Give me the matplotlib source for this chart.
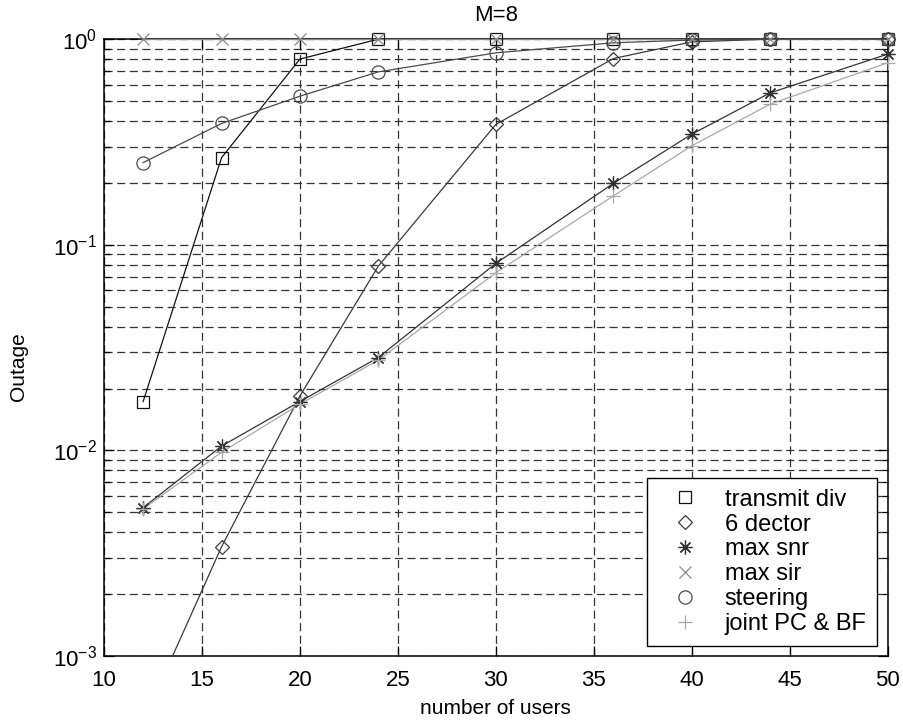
import matplotlib
matplotlib.use("Agg")

import matplotlib.pyplot as plt
from matplotlib.patches import Rectangle
from matplotlib.ticker import LogLocator, NullFormatter

plt.rcParams["font.family"] = ["Liberation Sans", "DejaVu Sans"]
plt.rcParams["mathtext.fontset"] = "custom"
plt.rcParams["mathtext.rm"] = "Liberation Sans"
plt.rcParams["mathtext.it"] = "Liberation Sans"

# data
users = [12, 16, 20, 24, 30, 36, 40, 44, 50]
transmit_div = [0.0173, 0.265, 0.80, 1.0, 1.0, 1.0, 1.0, 1.0, 1.0]
sector6 = [0.00048, 0.0034, 0.0184, 0.0787, 0.385, 0.805, 0.97, 1.0, 1.0]
max_snr = [0.00527, 0.0105, 0.0173, 0.0283, 0.0812, 0.199, 0.345, 0.548, 0.846]
max_sir = [1.0, 1.0, 1.0, 1.0, 1.0, 1.0, 1.0, 1.0, 1.0]
steering = [0.251, 0.389, 0.528, 0.693, 0.858, 0.96, 0.99, 1.0, 1.0]
joint_pc_bf = [0.0052, 0.0098, 0.0168, 0.0275, 0.0731, 0.173, 0.303, 0.483, 0.767]

# MATLAB style asterisk: eight thin arms
asterisk = (8, 2, 0)

series = [
    ("transmit div", transmit_div, "s", 9, "#111111"),
    ("6 dector", sector6, "D", 7.5, "#3a3a3a"),
    ("max snr", max_snr, asterisk, 10, "#333333"),
    ("max sir", max_sir, "x", 8, "#8a8a8a"),
    ("steering", steering, "o", 9.5, "#4a4a4a"),
    ("joint PC & BF", joint_pc_bf, "+", 10, "#a8a8a8"),
]

fig = plt.figure(figsize=(9.04, 7.25), dpi=100)
ax = fig.add_axes([0.115, 0.095, 0.867, 0.851])

# markers sitting on the top/right edge stay visible, points below the axis do not
marker_clip = Rectangle((-0.03, 0.0), 1.06, 1.05, transform=ax.transAxes,
                        facecolor="none", edgecolor="none")

handles = []
for label, vals, mk, ms, col in series:
    ax.plot(users, vals, color=col, linewidth=0.9, zorder=3)
    h = ax.plot(users, vals, linestyle="none", marker=mk, markersize=ms,
                markerfacecolor="none", markeredgecolor=col,
                markeredgewidth=0.9, label=label, zorder=4)[0]
    h.set_clip_path(marker_clip)
    handles.append(h)

ax.set_yscale("log")
ax.set_xlim(10, 50)
ax.set_ylim(1e-3, 1)
ax.set_xticks([10, 15, 20, 25, 30, 35, 40, 45, 50])
ax.yaxis.set_major_locator(LogLocator(base=10, numticks=10))
ax.yaxis.set_minor_locator(LogLocator(base=10, subs=range(2, 10), numticks=50))
ax.yaxis.set_minor_formatter(NullFormatter())

grid_style = dict(color="#333333", linestyle=(0, (6.5, 3.6)), linewidth=0.9)
ax.grid(True, which="major", axis="both", **grid_style)
ax.grid(True, which="minor", axis="y", **grid_style)
ax.set_axisbelow(True)

ax.tick_params(which="both", direction="in", top=True, right=True,
               labelsize=16, width=0.9)
ax.tick_params(which="major", length=7)
ax.tick_params(which="minor", length=4)
ax.tick_params(axis="x", pad=10)
ax.tick_params(axis="y", pad=5)
for sp in ax.spines.values():
    sp.set_linewidth(1.1)

ax.set_title("M=8", fontsize=16, pad=13)
ax.set_xlabel("number of users", fontsize=15, labelpad=6)
ax.set_ylabel("Outage", fontsize=15)
ax.yaxis.set_label_coords(-0.097, 0.47)

leg = ax.legend(handles=handles, loc="lower right", fontsize=17,
                fancybox=False, edgecolor="black", framealpha=1,
                handlelength=2.35, handletextpad=0.5, borderpad=0.45,
                labelspacing=0.12, borderaxespad=0.45)
leg.get_frame().set_linewidth(1.0)

fig.savefig("out.png", dpi=100)
plt.close(fig)
